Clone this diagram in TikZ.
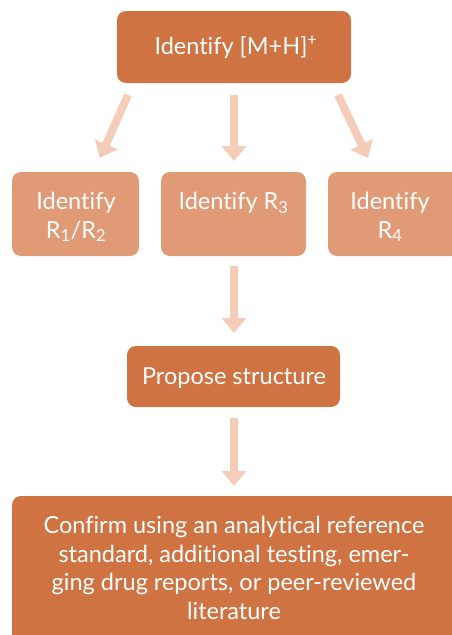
\documentclass[tikz,border=0pt]{standalone}
\usepackage{fontspec}
\setmainfont[Ligatures=NoCommon]{Lato}
\usetikzlibrary{arrows.meta}
\definecolor{darkbox}{HTML}{CF7343}
\definecolor{lightbox}{HTML}{E09A76}
\definecolor{arrowcol}{HTML}{F4CDB9}
\tikzset{
  x=1pt, y=-1pt,
  boxfont/.style={font=\fontsize{23.5}{28.5}\selectfont},
  box/.style={rounded corners=9pt, inner sep=0pt},
  label text/.style={text=white, align=center, inner sep=0pt, boxfont},
  mainbox/.style={box, fill=darkbox},
  subbox/.style={box, fill=lightbox},
  flow/.style={draw=arrowcol, line width=8pt,
    -{Triangle[width=24pt,length=15pt]}},
}
\begin{document}
\begin{tikzpicture}
  \useasboundingbox (0,0) rectangle (452,635);
  \begin{scope}
    \clip (0,0) rectangle (452,635);
    % boxes
    \node[mainbox, minimum width=234pt, minimum height=72pt] (mh) at (234,47) {};
    \node[subbox, minimum width=127pt, minimum height=84pt] (r12) at (75.5,214) {};
    \node[subbox, minimum width=145pt, minimum height=84pt] (r3) at (233.5,214) {};
    \node[subbox, minimum width=132pt, minimum height=84pt] (r4) at (394,214) {};
    \node[mainbox, minimum width=213pt, minimum height=61pt] (ps) at (233.5,376.5) {};
    \node[mainbox, minimum width=452pt, minimum height=150pt] (cf) at (238,571) {};
    % texts
    \node[label text] (mht) at (236,47) {Identify [M+H]\textsuperscript{+}};
    \node[label text] (r12t) at (76,217) {Identify\\ R\textsubscript{1}/R\textsubscript{2}};
    \node[label text] (r3t) at (233.5,203) {Identify R\textsubscript{3}};
    \node[label text] (r4t) at (390,217) {Identify\\ R\textsubscript{4}};
    \node[label text] (pst) at (234,378) {Propose structure};
    \node[label text] (cft) at (234,568)
      {Confirm using an analytical reference\\ standard, additional testing, emer-\\ ging drug reports, or peer-reviewed\\ literature};
  \end{scope}
  % connector end points
  \coordinate (a1s) at (128,95);  \coordinate (a1e) at (100,158);
  \coordinate (a2s) at (234,95);  \coordinate (a2e) at (234,161);
  \coordinate (a3s) at (338,95);  \coordinate (a3e) at (368,158);
  \coordinate (a4s) at (234,266); \coordinate (a4e) at (234,333);
  \coordinate (a5s) at (234,418); \coordinate (a5e) at (234,486);
  \draw[flow] (a1s) -- (a1e);
  \draw[flow] (a2s) -- (a2e);
  \draw[flow] (a3s) -- (a3e);
  \draw[flow] (a4s) -- (a4e);
  \draw[flow] (a5s) -- (a5e);
\end{tikzpicture}
\end{document}
